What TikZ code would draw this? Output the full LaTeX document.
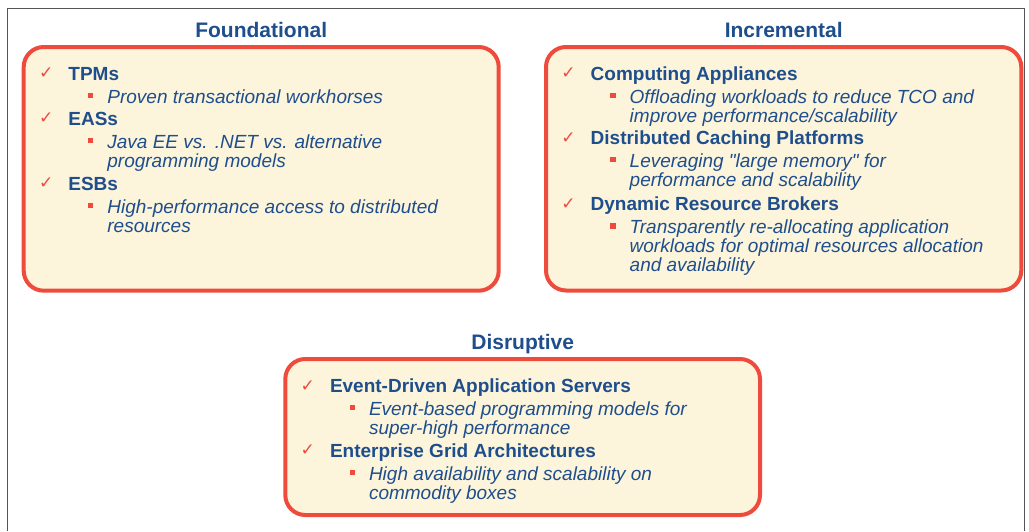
\documentclass[tikz,border=0pt]{standalone}
\usepackage{fontspec}
\setmainfont{Liberation Sans}[Ligatures=TeXOff]
\newfontfamily\symfont{DejaVu Sans}
\definecolor{txtblue}{HTML}{1F4E8C}
\definecolor{boxred}{HTML}{EE4B3C}
\definecolor{boxfill}{HTML}{FCF5DC}
\definecolor{framegray}{HTML}{555555}
\newcommand\hdline[4]{%
  \node[tick] (#1c) at (#2+24.5,#3-6.5) {✓};
  \node[hd] (#1) at (#2+46.5,#3) {#4};}
\newcommand\sbline[4]{%
  \node[sq] (#1b) at (#2+69,#3-7.3) {};
  \node[sb] (#1) at (#2+85.5,#3) {#4};}
\newcommand\sbcont[4]{\node[sb] (#1) at (#2+85.5,#3) {#4};}
\begin{document}
\begin{tikzpicture}[x=1pt,y=-1pt,
  panel/.style={draw=boxred, line width=4pt, fill=boxfill, rounded corners=20pt},
  ttl/.style={inner sep=0pt, anchor=base, text=txtblue, font=\fontsize{21}{25}\selectfont\bfseries},
  hd/.style={inner sep=0pt, anchor=base west, text=txtblue, font=\fontsize{19}{23}\selectfont\bfseries},
  sb/.style={inner sep=0pt, anchor=base west, text=txtblue, font=\fontsize{19}{23}\selectfont\itshape},
  tick/.style={inner sep=0pt, text=boxred, font=\symfont\fontsize{17}{20}\selectfont},
  sq/.style={fill=boxred, inner sep=0pt, minimum size=5.5pt, draw=none}
]
\useasboundingbox (0,0) rectangle (1029,531);
\draw[framegray, line width=1pt] (7.5,531) -- (7.5,8) -- (1024,8) -- (1024,531);

% panels
\draw[panel] (23.7,47) rectangle (498.7,290.7);
\draw[panel] (546,47) rectangle (1021.3,290.5);
\draw[panel] (285.3,359) rectangle (760,515);

% titles
\node[ttl] (tf) at (261.2,37.5) {Foundational};
\node[ttl] (ti) at (783.7,37.5) {Incremental};
\node[ttl] (td) at (522.7,349) {Disruptive};

% Foundational
\hdline{f1}{21.7}{80}{TPMs}
\sbline{f1s}{21.7}{103}{Proven transactional workhorses}
\hdline{f2}{21.7}{125}{EASs}
\sbline{f2s}{21.7}{148}{Java EE vs. .NET vs. alternative}
\sbcont{f2t}{21.7}{167.5}{programming models}
\hdline{f3}{21.7}{190}{ESBs}
\sbline{f3s}{21.7}{213}{High-performance access to distributed}
\sbcont{f3t}{21.7}{232.5}{resources}

% Incremental
\hdline{i1}{544}{80}{Computing Appliances}
\sbline{i1s}{544}{103}{Offloading workloads to reduce TCO and}
\sbcont{i1t}{544}{122.5}{improve performance/scalability}
\hdline{i2}{544}{144.5}{Distributed Caching Platforms}
\sbline{i2s}{544}{167}{Leveraging "large memory" for}
\sbcont{i2t}{544}{186.5}{performance and scalability}
\hdline{i3}{544}{210.7}{Dynamic Resource Brokers}
\sbline{i3s}{544}{233.3}{Transparently re-allocating application}
\sbcont{i3t}{544}{252.7}{workloads for optimal resources allocation}
\sbcont{i3u}{544}{271.7}{and availability}

% Disruptive
\hdline{d1}{283.3}{392.5}{Event-Driven Application Servers}
\sbline{d1s}{283.3}{415}{Event-based programming models for}
\sbcont{d1t}{283.3}{434.5}{super-high performance}
\hdline{d2}{283.3}{457}{Enterprise Grid Architectures}
\sbline{d2s}{283.3}{480}{High availability and scalability on}
\sbcont{d2t}{283.3}{499.5}{commodity boxes}
\end{tikzpicture}
\end{document}
